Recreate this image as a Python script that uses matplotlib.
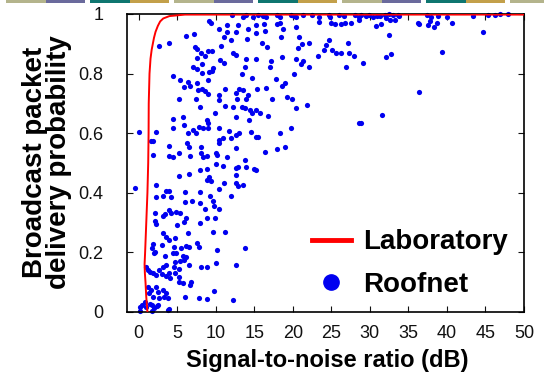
import matplotlib
matplotlib.use('Agg')
import matplotlib.pyplot as plt
from matplotlib.lines import Line2D
from matplotlib.patches import Rectangle

# Laboratory curve (SNR in dB, delivery probability)
lab_snr = [1.15, 1.0, 0.9, 0.82, 0.78, 0.85, 1.0, 1.15, 1.25, 1.3, 1.32, 1.42, 1.55,
           1.7, 1.85, 2.0, 2.2, 2.5, 2.8, 3.2, 4.0, 6.0, 10, 20, 30, 40, 50]
lab_prob = [0.0, 0.05, 0.1, 0.13, 0.16, 0.2, 0.3, 0.4, 0.5, 0.6, 0.7, 0.8, 0.85,
            0.88, 0.9, 0.92, 0.94, 0.96, 0.975, 0.985, 0.993, 0.998, 0.998, 0.998, 0.998, 0.998, 0.998]

# Roofnet links
roof_snr = [
    9.17, 9.35, 13.57, 15.29, 6.16, 7.24, 3.92, 2.63, 10.38, 11.41, 12.70, 12.96, 14.21, 15.20,
    11.11, 11.97, 10.68, 12.19, 12.62, 14.04, 7.36, 7.54, 8.10, 8.96, 9.52, 8.66, 7.54, 8.23,
    7.02, 7.54, 9.09, 8.23, 9.69, 9.52, 10.59, 11.02, 14.00, 15.20, 13.82, 13.48, 14.77, 4.52,
    5.38, 6.37, 5.94, 6.68, 7.54, 9.04, 7.71, 8.23, 8.66, 9.00, 7.45, 11.15, 10.47, 10.47,
    11.24, 5.30, 7.97, 9.95, 12.27, 12.62, 13.05, 12.70, 13.57, 14.25, 12.83, 13.91, 15.42,
    13.39, 13.82, 14.43, 15.20, 14.77, 4.52, 5.81, 4.44, 5.94, 7.11, 7.88, 8.40, 8.96, 8.83,
    9.00, 7.45, 6.37, 10.38, 11.67, 12.62, 13.05, 11.97, 10.90, 10.38, 10.47, 12.70, 14.56,
    15.29, 0.04, 2.20, 1.85, 1.55, 4.01, 6.29, 6.59, 8.10,
    1.85, 3.92, 4.44, 5.30, 6.72, 8.10, 8.31, 8.83, 10.03, 10.12, 11.46, 13.82, 14.99, 15.20,
    -0.52, 2.28, 3.57, 3.92, 3.14, 2.20, 4.22, 5.21, 6.59, 8.01, 8.83, 9.17, 8.83, 9.39,
    10.03, 10.98, 12.70, 12.96, 12.62, 13.91, 12.70, 12.96, 13.60, 11.11, 10.38, 11.97,
    8.01, 9.26, 9.61, 9.82, 10.38, 8.66, 7.97, 6.07, 6.07, 6.93, 3.92, 4.22, 3.14, 3.49,
    2.07, 2.07, 2.20, 4.87, 5.44, 5.94, 6.16, 4.95, 8.01, 8.87, 9.95, 3.23, 3.57, 4.78,
    6.37, 9.61, 11.24, 1.85, 1.77, 2.07, 1.94, 3.06, 3.92, 4.57, 5.51, 6.16, 6.59, 7.54,
    7.88, 4.87, 4.44, 13.82, 10.12, 3.49, 5.73, 6.16, 5.86, 5.38, 3.57, 4.78, 4.65, 5.21,
    6.59, 8.10, 8.83, 10.03, 12.62, 0.99, 1.21, 1.42, 1.85, 2.28, 2.71, 3.14, 3.06, 3.92,
    3.57, 4.09, 4.78, 5.21, 5.30, 5.73, 6.68, 6.81, 1.21, 1.64, 1.34, 2.20, 2.50, 3.14,
    3.57, 3.36, 3.79, 1.85, 2.71, 6.07, 7.80, 8.83, 9.73, 12.19, 0.78, 0.47, 0.99, 1.42,
    1.77, 1.94, 2.37, 4.01, 0.22, 0.13, 1.77, 2.50, 3.79,
    14.86, 15.55, 16.15, 16.49, 18.0, 18.3, 19.72, 20.15, 20.37, 21.32, 22.44, 23.47, 24.68,
    24.89, 25.97, 26.62, 28.04, 28.56, 28.87, 29.50, 29.85, 30.36, 30.93,
    16.28, 16.41, 18.00, 18.30, 18.78, 18.52, 20.46, 23.47, 25.02, 25.45, 26.31, 26.83,
    27.52, 28.55, 30.79, 31.48, 32.64, 16.06, 16.71, 20.80, 20.71, 21.23, 22.09, 24.68,
    24.33, 24.03, 23.30, 25.11, 25.62, 26.31, 27.17, 27.26, 27.91, 26.92, 29.07, 32.43,
    32.77, 32.09, 17.14, 17.01, 18.56, 20.37, 21.02, 21.32, 22.09, 20.15, 17.87, 18.65,
    18.99, 16.49, 17.36, 19.29, 19.85, 15.72, 16.84, 20.37, 21.79, 14.34, 15.55, 18.30,
    19.81, 18.00, 18.99, 16.41, 28.55, 28.81, 31.57,
    31.35, 31.91, 32.08, 32.43, 32.95, 33.29, 33.63, 33.81, 36.22, 36.39, 37.38, 37.60,
    37.81, 37.94, 38.37, 38.67, 38.80, 39.97, 40.61, 43.41, 45.35, 46.21, 46.86, 47.93,
    39.41, 44.70, 36.43, 11.5, 12.1, 14.0]
roof_prob = [
    0.978, 0.969, 0.991, 0.962, 0.927, 0.932, 0.904, 0.894, 0.949, 0.938, 0.938, 0.963, 0.949, 0.935,
    0.924, 0.913, 0.894, 0.870, 0.862, 0.915, 0.890, 0.883, 0.870, 0.877, 0.877, 0.859, 0.853, 0.832,
    0.821, 0.814, 0.805, 0.803, 0.818, 0.810, 0.846, 0.834, 0.850, 0.848, 0.823, 0.799, 0.785, 0.792,
    0.779, 0.773, 0.754, 0.758, 0.767, 0.779, 0.745, 0.747, 0.743, 0.732, 0.714, 0.747, 0.728, 0.711,
    0.691, 0.715, 0.687, 0.667, 0.687, 0.655, 0.747, 0.734, 0.745, 0.728, 0.714, 0.716, 0.747,
    0.687, 0.683, 0.678, 0.678, 0.667, 0.649, 0.653, 0.619, 0.628, 0.611, 0.622, 0.619, 0.616, 0.644,
    0.635, 0.602, 0.600, 0.619, 0.607, 0.594, 0.600, 0.583, 0.583, 0.566, 0.577, 0.551, 0.603,
    0.588, 0.603, 0.603, 0.574, 0.574, 0.557, 0.568, 0.555, 0.555,
    0.527, 0.524, 0.521, 0.535, 0.523, 0.535, 0.521, 0.523, 0.535, 0.527, 0.519, 0.510, 0.479, 0.477,
    0.415, 0.426, 0.407, 0.407, 0.389, 0.387, 0.387, 0.456, 0.463, 0.477, 0.479, 0.454, 0.443, 0.438,
    0.497, 0.490, 0.482, 0.485, 0.460, 0.488, 0.432, 0.423, 0.427, 0.432, 0.412, 0.389,
    0.404, 0.389, 0.374, 0.356, 0.344, 0.344, 0.367, 0.404, 0.368, 0.373, 0.342, 0.331, 0.322, 0.328,
    0.331, 0.306, 0.295, 0.337, 0.331, 0.303, 0.314, 0.292, 0.300, 0.317, 0.317, 0.264, 0.251, 0.247,
    0.264, 0.270, 0.270, 0.228, 0.214, 0.203, 0.197, 0.226, 0.242, 0.219, 0.214, 0.221, 0.219, 0.230,
    0.219, 0.197, 0.197, 0.214, 0.208, 0.188, 0.188, 0.183, 0.175, 0.172, 0.158, 0.169, 0.152, 0.143,
    0.158, 0.150, 0.152, 0.163, 0.158, 0.150, 0.141, 0.135, 0.130, 0.124, 0.141, 0.152, 0.128, 0.130,
    0.121, 0.113, 0.132, 0.119, 0.102, 0.096, 0.091, 0.102, 0.085, 0.074, 0.063, 0.085, 0.068, 0.074,
    0.063, 0.051, 0.046, 0.051, 0.046, 0.051, 0.046, 0.044, 0.070, 0.040, 0.035, 0.023, 0.018, 0.027,
    0.023, 0.012, 0.020, 0.009, 0.018, 0.005, 0.002, 0.023, 0.007,
    0.990, 0.997, 0.993, 0.990, 0.997, 0.990, 0.997, 0.993, 0.990, 0.997, 0.997, 0.990, 0.997,
    0.990, 0.997, 0.993, 0.997, 0.990, 0.997, 0.993, 0.997, 0.990, 0.993,
    0.966, 0.944, 0.966, 0.971, 0.949, 0.924, 0.957, 0.974, 0.969, 0.966, 0.965, 0.969,
    0.971, 0.980, 0.960, 0.965, 0.980, 0.902, 0.888, 0.924, 0.885, 0.899, 0.904, 0.913,
    0.896, 0.879, 0.860, 0.879, 0.868, 0.870, 0.902, 0.870, 0.859, 0.823, 0.834, 0.930,
    0.866, 0.855, 0.842, 0.823, 0.855, 0.848, 0.832, 0.842, 0.822, 0.798, 0.783, 0.758,
    0.770, 0.751, 0.714, 0.723, 0.714, 0.667, 0.659, 0.683, 0.695, 0.644, 0.586, 0.600,
    0.619, 0.547, 0.555, 0.537, 0.633, 0.634, 0.661,
    0.993, 0.997, 0.985, 1.000, 0.997, 0.980, 0.997, 0.993, 0.971, 0.966, 0.997, 0.963,
    0.978, 0.991, 0.957, 0.971, 0.993, 0.991, 0.969, 0.993, 0.997, 0.997, 1.000, 1.000,
    0.871, 0.940, 0.738, 0.963, 0.997, 0.997]

xticks = [0, 5, 10, 15, 20, 25, 30, 35, 40, 45, 50]
yticks = [0, 0.2, 0.4, 0.6, 0.8, 1]
ytick_labels = ['0', '0.2', '0.4', '0.6', '0.8', '1']

plt.rcParams['font.family'] = ['Liberation Sans', 'DejaVu Sans']

fig = plt.figure(figsize=(5.44, 3.75), dpi=100)
ax = fig.add_axes([127 / 544, 1 - 312 / 375, 397 / 544, 298 / 375])

ax.scatter(roof_snr, roof_prob, s=14, color='#0000f0', linewidths=0, clip_on=False, zorder=2)
ax.plot(lab_snr, lab_prob, color='#ff0000', lw=1.4, zorder=3)

ax.set_xlim(-1.5, 50)
ax.set_ylim(0, 1)
ax.set_xticks(xticks)
ax.set_yticks(yticks)
ax.set_yticklabels(ytick_labels)
ax.tick_params(direction='in', length=4, top=True, right=True, labelsize=13, colors='#111111')
ax.tick_params(axis='x', pad=9)
ax.tick_params(axis='y', pad=17)
for sp in ax.spines.values():
    sp.set_linewidth(1.2)

handles = [Line2D([], [], color='#ff0000', lw=3.5),
           Line2D([], [], marker='o', ls='', markersize=11, color='#0000f0')]
ax.legend(handles, ['Laboratory', 'Roofnet'], loc='upper left', bbox_to_anchor=(0.466, 0.277),
          frameon=False, prop={'weight': 'bold', 'size': 20}, handlelength=1.4,
          handletextpad=0.45, labelspacing=0.6, borderpad=0, borderaxespad=0)

fig.text(0.602, 0.04, 'Signal-to-noise ratio (dB)', ha='center', va='center',
         fontsize=17, fontweight='bold')
fig.text(47 / 544, 1 - 162 / 375, 'Broadcast packet\ndelivery probability', ha='center',
         va='center', rotation=90, fontsize=20, fontweight='bold', linespacing=0.92)

# decorative strip across the top of the slide
strip_colors = ['#b4b48c', '#6a6a9c', '#0f7670', '#c3a04a']
x0 = 6
for i in range(14):
    c = strip_colors[i % 4]
    fig.patches.append(Rectangle((x0 / 544, 1 - 3 / 375), 39.5 / 544, 3 / 375,
                                 transform=fig.transFigure, color=c, lw=0))
    x0 += 39.5
    if i % 2 == 1:
        x0 += 5

fig.savefig('out.png', dpi=100)
